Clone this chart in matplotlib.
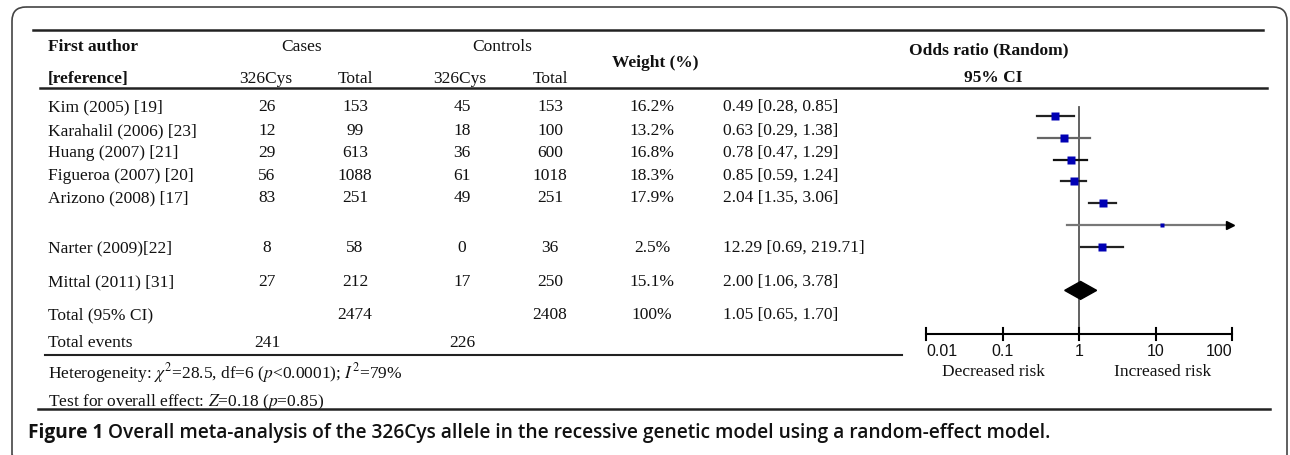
import numpy as np
import matplotlib
matplotlib.use('Agg')
import matplotlib.pyplot as plt
from matplotlib.patches import FancyBboxPatch, Polygon

# --- data --- #

authors = ['Kim (2005) [19]', 'Karahalil (2006) [23]', 'Huang (2007) [21]',
           'Figueroa (2007) [20]', 'Arizono (2008) [17]', 'Narter (2009)[22]',
           'Mittal (2011) [31]']
case_cys = [26, 12, 29, 56, 83, 8, 27]
case_total = [153, 99, 613, 1088, 251, 58, 212]
ctrl_cys = [45, 18, 36, 61, 49, 0, 17]
ctrl_total = [153, 100, 600, 1018, 251, 36, 250]
weights = [16.2, 13.2, 16.8, 18.3, 17.9, 2.5, 15.1]
or_est = [0.49, 0.63, 0.78, 0.85, 2.04, 12.29, 2.00]
ci_lo = [0.28, 0.29, 0.47, 0.59, 1.35, 0.69, 1.06]
ci_hi = [0.85, 1.38, 1.29, 1.24, 3.06, 219.71, 3.78]

total_cases = 2474
total_ctrls = 2408
events_cases = 241
events_ctrls = 226
pooled = (1.05, 0.65, 1.70)

axis_ticks = [0.01, 0.1, 1, 10, 100]
axis_labels = ['0.01', '0.1', '1', '10', '100']

# --- layout (pixels) --- #

W, H = 1290, 456
row_y = [107, 131, 153, 176, 198, 248, 282]
y_total, y_events = 315, 343
col_author = 48
col_case_cys, col_case_tot = 267, 355
col_ctrl_cys, col_ctrl_tot = 462, 550
col_weight, col_or = 652, 723

serif = 'Liberation Serif'
fs = 12.5
plt.rcParams['mathtext.fontset'] = 'stix'

fig = plt.figure(figsize=(W / 100, H / 100), dpi=100)
tab = fig.add_axes([0, 0, 1, 1])
tab.set_xlim(0, W)
tab.set_ylim(H, 0)
tab.axis('off')

# rounded frame
frame = FancyBboxPatch((12, 8), 1275, 462, boxstyle='round,pad=0,rounding_size=14',
                       fc='none', ec='#444444', lw=1.2, clip_on=False)
tab.add_patch(frame)

# rules
tab.plot([33, 1263], [31, 31], color='#222222', lw=1.8)
tab.plot([40, 1267], [89, 89], color='#222222', lw=1.8)
tab.plot([45, 902], [356, 356], color='#222222', lw=1.5)
tab.plot([38, 1270], [410, 410], color='#222222', lw=1.8)

def txt(x, y, s, ha='center', bold=False, size=fs, **kw):
    return tab.text(x, y, s, ha=ha, va='center', family=serif, size=size,
                    weight='bold' if bold else 'normal', color='#111111', **kw)

# header
txt(col_author, 47, 'First author', ha='left', bold=True)
txt(col_author, 79, '[reference]', ha='left', bold=True)
txt(302, 47, 'Cases')
txt(266, 79, '326Cys')
txt(355, 79, 'Total')
txt(502, 47, 'Controls')
txt(460, 79, '326Cys')
txt(550, 79, 'Total')
txt(655, 63, 'Weight (%)', bold=True)
txt(989, 50, 'Odds ratio (Random)', bold=True)
txt(993, 78, '95% CI', bold=True)

# study rows
for i in range(len(authors)):
    y = row_y[i]
    txt(col_author, y, authors[i], ha='left')
    txt(col_case_cys, y, str(case_cys[i]))
    txt(col_case_tot, y, str(case_total[i]))
    txt(col_ctrl_cys, y, str(ctrl_cys[i]))
    txt(col_ctrl_tot, y, str(ctrl_total[i]))
    txt(col_weight, y, '%.1f%%' % weights[i])
    txt(col_or, y, '%.2f [%.2f, %.2f]' % (or_est[i], ci_lo[i], ci_hi[i]), ha='left')

txt(col_author, y_total, 'Total (95% CI)', ha='left')
txt(col_case_tot, y_total, str(total_cases))
txt(col_ctrl_tot, y_total, str(total_ctrls))
txt(col_weight, y_total, '%d%%' % round(sum(weights)))
txt(col_or, y_total, '%.2f [%.2f, %.2f]' % pooled, ha='left')

txt(col_author, y_events, 'Total events', ha='left')
txt(col_case_cys, y_events, str(events_cases))
txt(col_ctrl_cys, y_events, str(events_ctrls))

txt(col_author, 373, r'Heterogeneity: $\chi^2$=28.5, df=6 ($p$<0.0001); $I^2$=79%', ha='left')
txt(col_author, 402, r'Test for overall effect: $Z$=0.18 ($p$=0.85)', ha='left')

# caption: bold label, then semibold title right after it
cap_fs = 13.8
lab = tab.text(28, 433, 'Figure 1 ', ha='left', va='center', family='Open Sans',
               weight='bold', size=cap_fs, color='#111111')
r = fig.canvas.get_renderer()
bb = lab.get_window_extent(renderer=r)
x_after = tab.transData.inverted().transform((bb.x1, 0))[0]
tab.text(x_after, 433, 'Overall meta-analysis of the 326Cys allele in the recessive genetic '
         'model using a random-effect model.', ha='left', va='center',
         family='Open Sans', weight='semibold', size=cap_fs, color='#111111')

# --- forest plot --- #

px_row0, px_pitch = 117, 21.8
px_one, px_dec = 1079, 76.5
r_top, r_bot = -1, 12
x_lo, x_hi = -2.5, 2.5
left = (px_one + px_dec * x_lo) / W
width = px_dec * (x_hi - x_lo) / W
top_px = px_row0 + px_pitch * r_top
bot_px = px_row0 + px_pitch * r_bot
ax = fig.add_axes([left, 1 - bot_px / H, width, (bot_px - top_px) / H])
ax.set_xscale('log')
ax.set_xlim(10 ** x_lo, 10 ** x_hi)
ax.set_ylim(r_bot, r_top)
ax.axis('off')

ax.plot([1, 1], [-0.4, 10], color='#555555', lw=1.3, zorder=1)

ci_colors = ['#222222', '#666666', '#111111', '#222222', '#222222', '#777777', '#222222']
for i in range(len(authors)):
    hi = min(ci_hi[i], axis_ticks[-1])
    ax.plot([ci_lo[i], hi], [i, i], color=ci_colors[i], lw=1.6, zorder=2)
    if ci_hi[i] > axis_ticks[-1]:
        ax.plot(hi * 0.93, i, '>', color='black', ms=6, zorder=3)
    ax.plot(or_est[i], i, 's', color='#0000b4', ms=1.5 * np.sqrt(weights[i]),
            mec='none', zorder=4)

est, lo, hi = pooled
d_row = len(authors) + 1
diamond = Polygon([[lo, d_row], [est, d_row - 0.41], [hi, d_row], [est, d_row + 0.41]],
                  closed=True, fc='black', ec='black', zorder=5)
ax.add_patch(diamond)

tick_ha = ['left', 'center', 'center', 'center', 'right']
ax.plot([axis_ticks[0], axis_ticks[-1]], [10, 10], color='black', lw=1.5)
for t, lab_s, ha in zip(axis_ticks, axis_labels, tick_ha):
    ax.plot([t, t], [9.72, 10.28], color='black', lw=1.5)
    ax.text(t, 10.75, lab_s, ha=ha, va='center', family='Liberation Sans',
            size=11.5, color='#111111')
ax.text(0.075, 11.7, 'Decreased risk', ha='center', va='center', family=serif,
        size=fs, color='#111111')
ax.text(12.2, 11.7, 'Increased risk', ha='center', va='center', family=serif,
        size=fs, color='#111111')

plt.savefig('out.png', dpi=100)
